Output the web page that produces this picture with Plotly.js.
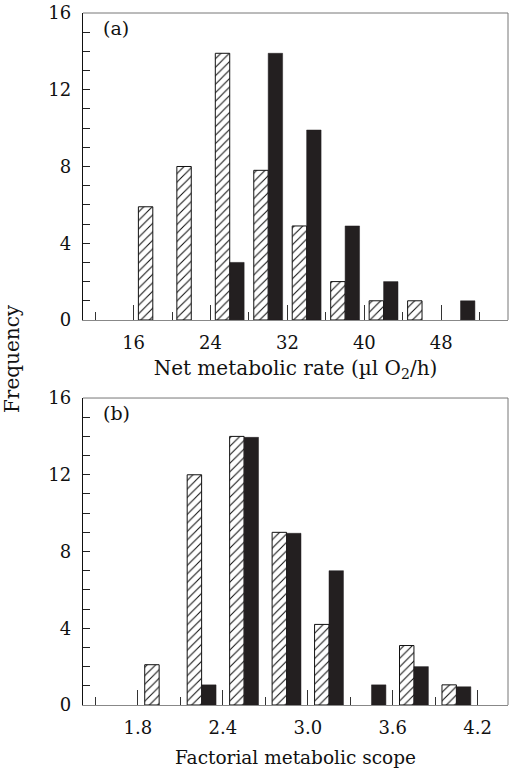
<!DOCTYPE html>
<html>
<head>
<meta charset="utf-8">
<script src="https://cdn.plot.ly/plotly-3.0.1.min.js"></script>
<style>html,body{margin:0;padding:0;background:#fff;}#chart{width:512px;height:768px;}</style>
</head>
<body>
<div id="chart"></div>
<script>
// Panel (a): Net metabolic rate bins (centres)
const rateBins = [18, 22, 26, 30, 34, 38, 42, 46, 50];
const rateHatched = [5.9, 8, 13.9, 7.8, 4.9, 2, 1, 1, 0];
const rateSolid = [0, 0, 3, 13.9, 9.9, 4.9, 2, 0, 1];
const rateTicks = [16, 24, 32, 40, 48];

// Panel (b): Factorial metabolic scope bins (centres)
const scopeBins = [1.95, 2.25, 2.55, 2.85, 3.15, 3.45, 3.75, 4.05];
const scopeHatched = [2.1, 12, 14, 9, 4.2, 0, 3.1, 1.05];
const scopeSolid = [0, 1.05, 13.95, 8.95, 7, 1.05, 2, 0.95];
const scopeTicks = [1.8, 2.4, 3.0, 3.6, 4.2];
const scopeTickText = ['1.8', '2.4', '3.0', '3.6', '4.2'];

const yTicks = [0, 4, 8, 12, 16];

const FONT = 'DejaVu Serif, Liberation Serif, serif';
const SOLID = '#231f20';
const wA = 1.5, wB = 0.102;

// empty bins are not drawn
const nz = arr => arr.map(v => (v === 0 ? null : v));

function hatched(x, y, w, xa, ya) {
  return {type: 'bar', x: x, y: nz(y), xaxis: xa, yaxis: ya,
    width: w, offset: -w,
    marker: {color: 'white', line: {color: '#111', width: 1},
      pattern: {shape: '/', fgcolor: '#111', bgcolor: 'white', size: 6, solidity: 0.18}},
    showlegend: false, hoverinfo: 'x+y'};
}
function solid(x, y, w, xa, ya) {
  return {type: 'bar', x: x, y: nz(y), xaxis: xa, yaxis: ya,
    width: w, offset: 0,
    marker: {color: SOLID, line: {color: SOLID, width: 0.5}},
    showlegend: false, hoverinfo: 'x+y'};
}

const data = [
  hatched(rateBins, rateHatched, wA, 'x', 'y'),
  solid(rateBins, rateSolid, wA, 'x', 'y'),
  hatched(scopeBins, scopeHatched, wB, 'x2', 'y2'),
  solid(scopeBins, scopeSolid, wB, 'x2', 'y2')
];

const yCommon = {
  range: [0, 16], tickvals: yTicks, ticks: 'inside', ticklen: 7, tickcolor: '#222',
  showline: true, linecolor: '#111', linewidth: 1.2, showgrid: false, zeroline: false,
  minor: {dtick: 1, ticks: 'inside', ticklen: 7, tickcolor: '#222'},
  tickfont: {family: FONT, size: 18, color: '#111'}, ticklabelstandoff: 7, fixedrange: true
};
const xCommon = {
  ticks: 'inside', ticklen: 15, tickcolor: '#333', showgrid: false, zeroline: false,
  showline: true, linecolor: '#888', linewidth: 1,
  tickfont: {family: FONT, size: 18, color: '#111'}, ticklabelstandoff: 6, fixedrange: true
};

const layout = {
  width: 512, height: 768,
  margin: {l: 83, r: 4, t: 13, b: 63},
  paper_bgcolor: 'white', plot_bgcolor: 'white',
  font: {family: FONT, color: '#111'},
  xaxis: Object.assign({}, xCommon, {
    anchor: 'y', range: [10.74, 54.94], tickvals: rateTicks,
    minor: {tickvals: [12, 20, 28, 36, 44, 52], ticks: 'inside', ticklen: 8, tickcolor: '#333'},
    title: {text: 'Net metabolic rate (µl O<sub>2</sub>/h)', font: {family: FONT, size: 20, color: '#111'}, standoff: 9}
  }),
  yaxis: Object.assign({}, yCommon, {anchor: 'x', domain: [0.5564, 1]}),
  xaxis2: Object.assign({}, xCommon, {
    anchor: 'y2', range: [1.412, 4.4145], tickvals: scopeTicks, ticktext: scopeTickText,
    minor: {tickvals: [1.5, 2.1, 2.7, 3.3, 3.9], ticks: 'inside', ticklen: 8, tickcolor: '#333'},
    title: {text: 'Factorial metabolic scope', font: {family: FONT, size: 18.5, color: '#111'}, standoff: 14}
  }),
  yaxis2: Object.assign({}, yCommon, {anchor: 'x2', domain: [0, 0.4436]}),
  shapes: [
    {type: 'line', xref: 'x domain', yref: 'y domain', x0: 0, x1: 1, y0: 1, y1: 1, line: {color: '#777', width: 1}},
    {type: 'line', xref: 'x domain', yref: 'y domain', x0: 1, x1: 1, y0: 0, y1: 1, line: {color: '#777', width: 1}},
    {type: 'line', xref: 'x2 domain', yref: 'y2 domain', x0: 0, x1: 1, y0: 1, y1: 1, line: {color: '#777', width: 1}},
    {type: 'line', xref: 'x2 domain', yref: 'y2 domain', x0: 1, x1: 1, y0: 0, y1: 1, line: {color: '#777', width: 1}}
  ],
  annotations: [
    {text: '(a)', xref: 'x domain', yref: 'y domain', x: 0.042, y: 0.995, xanchor: 'left', yanchor: 'top',
      showarrow: false, font: {family: FONT, size: 19, color: '#111'}},
    {text: '(b)', xref: 'x2 domain', yref: 'y2 domain', x: 0.042, y: 0.995, xanchor: 'left', yanchor: 'top',
      showarrow: false, font: {family: FONT, size: 19, color: '#111'}},
    {text: 'Frequency', xref: 'paper', yref: 'paper', x: -0.167, y: 0.5, xanchor: 'center', yanchor: 'middle',
      textangle: -90, showarrow: false, font: {family: FONT, size: 20, color: '#111'}}
  ]
};

Plotly.newPlot('chart', data, layout, {displayModeBar: false, staticPlot: true});
</script>
</body>
</html>
